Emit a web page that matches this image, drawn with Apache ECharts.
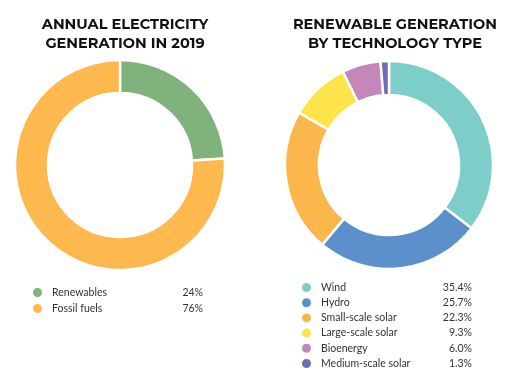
<!DOCTYPE html>
<html><head><meta charset="utf-8">
<script src="https://cdn.jsdelivr.net/npm/echarts@6/dist/echarts.min.js"></script>
<style>html,body{margin:0;padding:0;background:#fff}#c{width:526px;height:380px}</style>
</head><body><div id="c"></div>
<script>
const mixNames = ['Renewables', 'Fossil fuels'];
const mixValues = [24, 76];
const mixColors = ['#80b27c', '#fdb84e'];
const techNames = ['Wind', 'Hydro', 'Small-scale solar', 'Large-scale solar', 'Bioenergy', 'Medium-scale solar'];
const techValues = [35.4, 25.7, 22.3, 9.3, 6.0, 1.3];
const techColors = ['#7dcdc8', '#5c90cc', '#fbb74c', '#fee34b', '#c586b9', '#6d6bb1'];

const chart = echarts.init(document.getElementById('c'));
const font = 'Lato, "Open Sans", sans-serif';
const mixMap = {}; mixNames.forEach((n,i)=>mixMap[n]=mixValues[i]);
const techMap = {}; techNames.forEach((n,i)=>techMap[n]=techValues[i]);
const rich = {
  n: {width: 106, padding: [0, 0, 0, 4], fontFamily: font, fontSize: 10.5, color: '#333', lineHeight: 12},
  v: {width: 45, align: 'right', fontFamily: font, fontSize: 10.5, color: '#333', lineHeight: 12}
};
const titleStyle = {fontFamily: 'Montserrat, "Open Sans", sans-serif', fontWeight: 'bold', fontSize: 14.5, lineHeight: 19, color: '#111'};

chart.setOption({
  animation: false,
  title: [
    {text: 'ANNUAL ELECTRICITY\nGENERATION IN 2019', left: 120, top: 10, textAlign: 'center', textStyle: titleStyle},
    {text: 'RENEWABLE GENERATION\nBY TECHNOLOGY TYPE', left: 390, top: 10, textAlign: 'center', textStyle: titleStyle}
  ],
  legend: [
    {data: mixNames, orient: 'vertical', left: 31, top: 286, height: 60, icon: 'circle', itemWidth: 11, itemHeight: 11, itemGap: 3,
     selectedMode: false, padding: 0,
     formatter: n => '{n|' + n + '}{v|' + mixMap[n] + '%}',
     textStyle: {fontFamily: font, fontSize: 10.5, color: '#333', rich: rich}},
    {data: techNames, orient: 'vertical', left: 300, top: 281, height: 100, icon: 'circle', itemWidth: 11, itemHeight: 11, itemGap: 2.2,
     selectedMode: false, padding: 0,
     formatter: n => '{n|' + n + '}{v|' + techMap[n].toFixed(1) + '%}',
     textStyle: {fontFamily: font, fontSize: 10.5, color: '#333', rich: rich}}
  ],
  series: [
    {type: 'pie', center: [120, 165], radius: [72, 105], startAngle: 90, clockwise: true,
     label: {show: false}, labelLine: {show: false}, emphasis: {disabled: true},
     itemStyle: {borderColor: '#fff', borderWidth: 2.5},
     data: mixNames.map((n,i)=>({name: n, value: mixValues[i], itemStyle: {color: mixColors[i]}}))},
    {type: 'pie', center: [389, 165], radius: [70, 104], startAngle: 90, clockwise: true,
     label: {show: false}, labelLine: {show: false}, emphasis: {disabled: true},
     itemStyle: {borderColor: '#fff', borderWidth: 2.5},
     data: techNames.map((n,i)=>({name: n, value: techValues[i], itemStyle: {color: techColors[i]}}))}
  ]
});
</script></body></html>
